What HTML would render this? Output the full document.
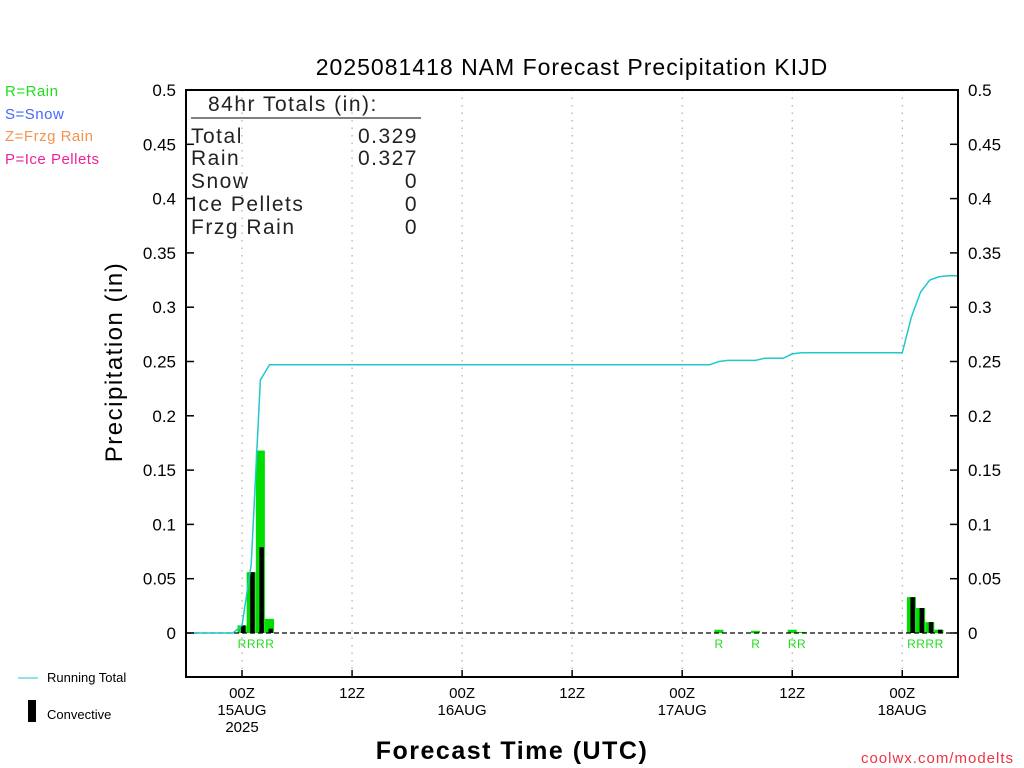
<!DOCTYPE html>
<html><head><meta charset="utf-8"><style>
body{margin:0;background:#fff}
svg{display:block;font-family:"Liberation Sans",sans-serif}
</style></head><body>
<svg id="c" width="1024" height="768" viewBox="0 0 1024 768">
<text x="572" y="75" font-size="23" text-anchor="middle" letter-spacing="1">2025081418 NAM Forecast Precipitation KIJD</text>
<g font-size="15" letter-spacing="0.5">
<text x="5" y="96" fill="#22dd22">R=Rain</text>
<text x="5" y="119" fill="#4466ff">S=Snow</text>
<text x="5" y="141" fill="#f4944c">Z=Frzg Rain</text>
<text x="5" y="164" fill="#ee2299">P=Ice Pellets</text>
</g>
<g id="grid"></g><g id="bars"></g><g id="line"></g><g id="axes"></g>
<g font-size="21" fill="#222" letter-spacing="1.5">
<text x="208" y="111">84hr Totals (in):</text>
<line x1="191" y1="118" x2="421" y2="118" stroke="#000" stroke-width="1"/>
<text x="191" y="143">Total</text><text x="418" y="143" text-anchor="end">0.329</text>
<text x="191" y="165">Rain</text><text x="418" y="165" text-anchor="end">0.327</text>
<text x="191" y="188">Snow</text><text x="418" y="188" text-anchor="end">0</text>
<text x="191" y="211">Ice Pellets</text><text x="418" y="211" text-anchor="end">0</text>
<text x="191" y="234">Frzg Rain</text><text x="418" y="234" text-anchor="end">0</text>
</g>
<text transform="translate(122,362) rotate(-90)" font-size="24" text-anchor="middle" letter-spacing="1.5">Precipitation (in)</text>
<text x="512" y="759" font-size="25" text-anchor="middle" font-weight="bold" letter-spacing="1.5">Forecast Time (UTC)</text>
<text x="1014" y="763" font-size="15" fill="#ee3344" text-anchor="end" letter-spacing="1">coolwx.com/modelts</text>
<g>
<line x1="18" y1="678" x2="38" y2="678" stroke="#22c8cc" stroke-width="1"/>
<text x="47" y="682" font-size="13">Running Total</text>
<rect x="28" y="700" width="8" height="22" fill="#000"/>
<text x="47" y="719" font-size="13">Convective</text>
</g>
</svg>
<script>
const barHours=[6,7,8,9,58,62,66,67,79,80,81,82];
const barTotal=[0.007,0.056,0.168,0.013,0.003,0.002,0.003,0.001,0.033,0.023,0.010,0.003];
const barConv=[0.007,0.056,0.079,0.004,0,0,0,0,0.033,0.023,0.010,0.003];
const runHours=[0,5,6,7,8,9,57,58,59,62,63,65,66,67,78,79,80,81,82,83,84];
const runTotal=[0,0,0.007,0.063,0.233,0.247,0.247,0.25,0.251,0.251,0.253,0.253,0.257,0.258,0.258,0.291,0.314,0.325,0.328,0.329,0.329];
const yTicks=[0,0.05,0.1,0.15,0.2,0.25,0.3,0.35,0.4,0.45,0.5];
const xTickHours=[6,18,30,42,54,66,78];
const xTickLabels=[["00Z","15AUG","2025"],["12Z"],["00Z","16AUG"],["12Z"],["00Z","17AUG"],["12Z"],["00Z","18AUG"]];
const X0=187,PXH=9.17,Y0=633,PXV=1086;
const sx=h=>X0+h*PXH, sy=v=>Y0-v*PXV;
const NS="http://www.w3.org/2000/svg";
function mk(p,t,a){const e=document.createElementNS(NS,t);for(const k in a)e.setAttribute(k,a[k]);document.getElementById(p).appendChild(e);return e;}
xTickHours.forEach((h,i)=>{
 const g=mk('grid','line',{x1:sx(h),y1:90,x2:sx(h),y2:677,stroke:'#999','stroke-dasharray':'1.5,6'});
 
 
 xTickLabels[i].forEach((s,j)=>{const t=mk('axes','text',{x:sx(h),y:698+j*17,'font-size':15,'text-anchor':'middle'});t.textContent=s;
 
 });
 mk('axes','line',{x1:sx(h),y1:677,x2:sx(h),y2:670,stroke:'#000','stroke-width':1.5});
});
barHours.forEach((h,i)=>{
 const r=mk('bars','rect',{x:sx(h)-4.5,y:sy(barTotal[i]),width:9,height:barTotal[i]*PXV,fill:'#00dd00'});
 
 
 if(barConv[i]>0){const c=mk('bars','rect',{x:sx(h)-1,y:sy(barConv[i]),width:4.5,height:barConv[i]*PXV,fill:'#000'});
 
 }
 const t=mk('bars','text',{x:sx(h),y:648,'font-size':12,fill:'#22dd22','text-anchor':'middle'});t.textContent='R';
 
 
});
mk('bars','line',{x1:186,y1:Y0,x2:958,y2:Y0,stroke:'#000','stroke-dasharray':'5,3','stroke-width':1.3});
const pl=mk('line','polyline',{points:runHours.map((h,i)=>sx(h)+','+sy(runTotal[i])).join(' '),fill:'none',stroke:'#22c8cc','stroke-width':1.5});


mk('axes','rect',{x:186,y:90,width:772,height:587,fill:'none',stroke:'#000','stroke-width':2});
yTicks.forEach(v=>{
 mk('axes','line',{x1:186,y1:sy(v),x2:194,y2:sy(v),stroke:'#000','stroke-width':1.5});
 mk('axes','line',{x1:950,y1:sy(v),x2:958,y2:sy(v),stroke:'#000','stroke-width':1.5});
 const a=mk('axes','text',{x:176,y:sy(v)+6,'font-size':17,'text-anchor':'end'});a.textContent=String(v);
 
 
 const b=mk('axes','text',{x:968,y:sy(v)+6,'font-size':17});b.textContent=String(v);
 
 
});
</script>
</body></html>
